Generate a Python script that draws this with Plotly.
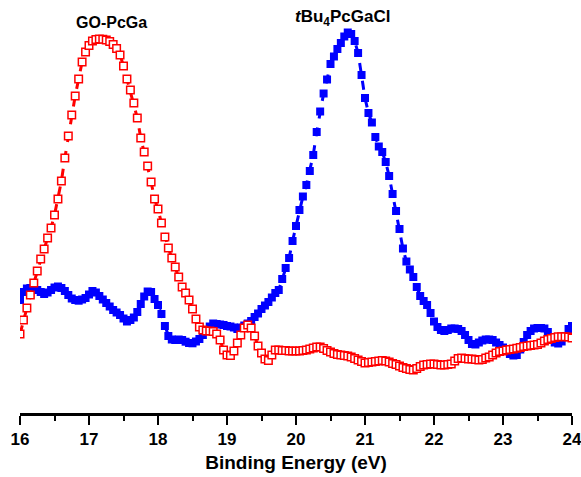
import numpy as np
import plotly.graph_objects as go

# Binding energy grid (eV), 0.05 eV steps from 16 to 24
energy = [round(16 + 0.05 * i, 2) for i in range(161)]

# GO-PcGa intensity (a.u.)
go_pcga = [
    78, 92, 104, 117, 129, 141, 153, 163, 174, 184,
    197, 213, 231, 254, 276, 297, 316, 333, 350, 360,
    366.5, 371, 372.5, 373, 372.7, 372, 370.5, 367.5, 363.5, 357,
    346, 333, 322, 309, 294, 274, 260, 246, 230, 213,
    203, 189, 175, 164, 154, 145, 135, 125, 119, 112,
    103, 93, 85, 82, 81, 81, 80.5, 78, 72, 62,
    57, 56.5, 61, 69, 77, 84, 87, 84, 76, 66,
    59, 53, 51.5, 57, 62, 62, 61.5, 61.5, 61, 61,
    61, 61, 61.5, 62, 63, 64, 65, 65, 63.5, 61.5,
    60, 58.5, 57.5, 57, 56.5, 56, 55, 53.5, 52, 50.5,
    49, 49.5, 50, 50.5, 51, 51.5, 51, 50, 48.5, 47.5,
    46, 44.5, 43.5, 42.5, 42, 43.5, 45.5, 47, 47.5, 48,
    48, 47.5, 47, 47, 47.5, 48, 51, 53.5, 54, 53.5,
    53, 53, 52.5, 52, 52.5, 54, 55, 57, 59, 60.5,
    61, 62, 62.5, 63, 63.7, 64.5, 65.5, 66, 66.5, 67,
    67.5, 69, 71, 72.5, 73.5, 74.5, 75.3, 75.3, 75.3, 75,
    74,
]

# tBu4PcGaCl intensity (a.u.)
tbu_pcgacl = [
    112, 120, 123.5, 124, 123.5, 122, 120, 118, 119.5, 122,
    124.5, 125.5, 124, 121, 117, 113.5, 112, 111.3, 112.5, 114,
    117.5, 121, 119.5, 116, 112.5, 109, 105.5, 102, 99.5, 97,
    93.5, 90.5, 92, 94.5, 100, 108, 115.5, 120.5, 120, 113,
    107, 98, 86, 76, 72.5, 72, 72.5, 72, 70.3, 69,
    68.7, 70.5, 73, 77, 81, 85.5, 88.5, 88, 87.5, 87,
    86, 85.5, 84.5, 83, 84.5, 86.5, 88.5, 91, 95, 98.5,
    103, 106.5, 110, 114.5, 119, 122, 133, 144, 154, 171,
    186, 202, 215.5, 227, 241, 257, 280, 300.5, 318.5, 332.5,
    348, 355.5, 363, 369, 375.5, 379.5, 378, 371, 359, 337,
    314, 299, 289.5, 275, 265.5, 260, 250, 236, 218, 201,
    183, 163.5, 150.5, 142.5, 135, 125, 116, 111, 107, 99,
    90.5, 85, 82, 81, 82, 83.5, 83.5, 83, 81, 77,
    72, 68, 67.5, 69.5, 71.5, 72.5, 72.5, 72, 69.5, 67,
    64.5, 61, 58, 56.5, 57, 62.5, 70, 77, 81, 83.5,
    84, 84, 83.5, 80, 74.5, 69.5, 68.5, 70.5, 76, 83,
    86,
]

x_ticks = [16, 17, 18, 19, 20, 21, 22, 23, 24]

FONT = "Liberation Sans, Arial, Helvetica"

fig = go.Figure()

fig.add_trace(go.Scatter(
    x=energy, y=tbu_pcgacl, mode="lines+markers", name="tBu4PcGaCl",
    line=dict(color="#0000ff", width=3, dash="dash"),
    marker=dict(symbol="square", size=8, color="#0000ff",
                line=dict(color="#0000ff", width=0)),
))

fig.add_trace(go.Scatter(
    x=energy, y=go_pcga, mode="lines+markers", name="GO-PcGa",
    line=dict(color="#ff0000", width=3, dash="dash"),
    marker=dict(symbol="square", size=7.5, color="white",
                line=dict(color="#ff0000", width=1.5)),
))

fig.add_annotation(x=17.33, y=390, xref="x", yref="y", text="GO-PcGa",
                   showarrow=False,
                   font=dict(family=FONT, size=16, color="black", weight="bold"))
fig.add_annotation(x=20.68, y=394, xref="x", yref="y",
                   text="<i>t</i>Bu<sub>4</sub>PcGaCl",
                   showarrow=False,
                   font=dict(family=FONT, size=17, color="black", weight="bold"))

fig.update_layout(
    width=581, height=477,
    margin=dict(l=20, r=9, t=0, b=64),
    paper_bgcolor="white", plot_bgcolor="white",
    showlegend=False,
    font=dict(family=FONT, color="black"),
)

fig.update_xaxes(
    range=[16, 24], tickvals=x_ticks, ticktext=[str(t) for t in x_ticks],
    showgrid=False, zeroline=False,
    showline=True, linecolor="black", linewidth=2.5,
    ticks="outside", ticklen=9, tickwidth=2, tickcolor="black",
    minor=dict(ticks="outside", ticklen=5, tickwidth=2, tickcolor="black", dtick=0.5),
    tickfont=dict(family=FONT, size=17, color="black", weight="bold"),
    ticklabeloverflow="allow",
    title=dict(text="Binding Energy (eV)", standoff=8,
               font=dict(family=FONT, size=19, color="black", weight="bold")),
)
fig.update_yaxes(range=[-1, 412], visible=False, showgrid=False, zeroline=False)

fig.write_html("out.html")
